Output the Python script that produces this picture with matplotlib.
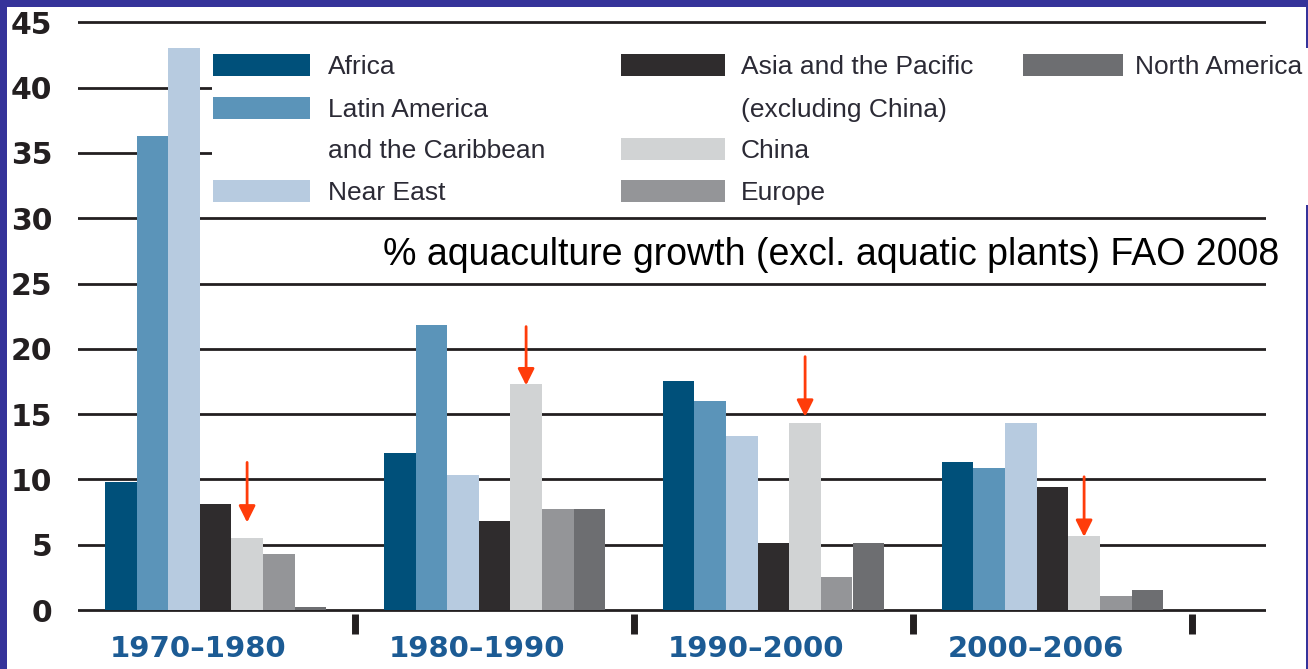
# coding: utf-8

import numpy as np
import matplotlib.pyplot as plt
from matplotlib.patches import Rectangle

##############################
# データ
##############################
periods = ['1970–1980', '1980–1990', '1990–2000', '2000–2006']

# 地域ごとの年平均成長率 (%)
africa        = [9.8, 12.0, 17.5, 11.3]
latin_america = [36.3, 21.8, 16.0, 10.9]
near_east     = [43.0, 10.3, 13.3, 14.3]
asia_pacific  = [8.1, 6.8, 5.1, 9.4]
china         = [5.5, 17.3, 14.3, 5.7]
europe        = [4.3, 7.7, 2.5, 1.1]
north_america = [0.2, 7.7, 5.1, 1.5]

# 中国を指す矢印 (始点, 先端)
arrow_top = [11.3, 21.7, 19.4, 10.2]
arrow_tip = [6.7, 17.2, 14.8, 5.6]

yticks = [0, 5, 10, 15, 20, 25, 30, 35, 40, 45]

series = [africa, latin_america, near_east, asia_pacific, china, europe, north_america]
colors = ['#00507a', '#5b94b9', '#b7cbe0', '#2f2c2d', '#d1d3d4', '#949598', '#6d6e71']

# 凡例: (行ごとのラベル, 列, 行)
legend_items = [
    (['Africa'], 0, 0),
    (['Latin America', 'and the Caribbean'], 0, 1),
    (['Near East'], 0, 3),
    (['Asia and the Pacific', '(excluding China)'], 1, 0),
    (['China'], 1, 2),
    (['Europe'], 1, 3),
    (['North America'], 2, 0),
]

##############################
# 図の準備
##############################
W, H = 1308, 669
plt.rcParams['font.family'] = ['DejaVu Sans']
fig = plt.figure(figsize=(W / 100, H / 100), dpi=100, facecolor='#35339a')

# 白い台紙 (左と上に紺の枠が残る)
fig.patches.append(Rectangle((7 / W, 0), (W - 9) / W, (H - 7) / H,
                             transform=fig.transFigure, facecolor='white',
                             edgecolor='none', zorder=-1))

# 軸: 1グループ = 279px, y 1単位 = 13.06px
px_x = 279.0
px_y = (610 - 22.3) / 45
y0, y1 = -0.3, 45.3
ax_left, ax_right = 78, 1266
ax_bottom = 610 - y0 * px_y
ax_top = 610 - y1 * px_y
ax = fig.add_axes([ax_left / W, (H - ax_bottom) / H,
                   (ax_right - ax_left) / W, (ax_bottom - ax_top) / H])
ax.set_facecolor('none')
ax.set_xlim((ax_left - 76) / px_x, (ax_right - 76) / px_x)
ax.set_ylim(y0, y1)

##############################
# 棒グラフ
##############################
x = np.arange(len(periods)) + 0.5
w = 31.6 / px_x
for k, (vals, c) in enumerate(zip(series, colors)):
    ax.bar(x + (k - 3) * w, vals, width=w, color=c, zorder=2)

# 中国の棒に矢印
for i in range(len(periods)):
    xc = x[i] + w
    ax.annotate('', xy=(xc, arrow_tip[i]), xytext=(xc, arrow_top[i]),
                arrowprops=dict(arrowstyle='-|>', color='#ff3c0a', lw=2,
                                mutation_scale=25, shrinkA=0, shrinkB=0),
                zorder=5)

# 目盛り線
ax.set_axisbelow(True)
ax.set_yticks(yticks)
ax.yaxis.grid(True, color='#231f20', linewidth=2)
ax.tick_params(axis='y', length=0, pad=18.5, labelsize=21.5, labelcolor='#231f20')
for lbl in ax.get_yticklabels():
    lbl.set_fontweight('bold')

# グループ区切りの目盛りと期間ラベル
ax.set_xticks([1, 2, 3, 4])
ax.set_xticklabels([])
ax.tick_params(axis='x', which='major', length=14.4, width=5,
               color='#231f20', direction='out')
ax.set_xticks(x - 0.061, minor=True)
ax.set_xticklabels(periods, minor=True, fontsize=21, fontweight='bold',
                   color='#1c5b94')
ax.tick_params(axis='x', which='minor', length=0, pad=15)

for s in ax.spines.values():
    s.set_visible(False)

##############################
# 凡例 (白地で目盛り線を隠す)
##############################
leg = fig.add_axes([212 / W, 1 - 205 / H, (W - 212) / W, (205 - 48) / H], zorder=3)
leg.set_xlim(212, W)
leg.set_ylim(205, 48)
leg.set_facecolor('white')
leg.set_xticks([])
leg.set_yticks([])
for s in leg.spines.values():
    s.set_visible(False)

swatch_x = [(213, 310), (621, 725), (1023, 1123)]
text_x = [328, 741, 1135]
row_base = [74, 117, 158, 200]
for (lines, col, row), c in zip(legend_items, colors):
    sx0, sx1 = swatch_x[col]
    b = row_base[row]
    leg.add_patch(Rectangle((sx0, b - 20), sx1 - sx0, 22, facecolor=c, edgecolor='none'))
    for j, line in enumerate(lines):
        leg.text(text_x[col], row_base[row + j], line, fontsize=19,
                 family='Liberation Sans', color='#2b2a35', va='baseline', ha='left')

##############################
# 注記
##############################
fig.text(383 / W, 1 - 265 / H, '% aquaculture growth (excl. aquatic plants) FAO 2008',
         fontsize=27, family='Liberation Sans', color='black', va='baseline', ha='left')

fig.savefig('out.png', dpi=100, facecolor=fig.get_facecolor())
plt.close()
